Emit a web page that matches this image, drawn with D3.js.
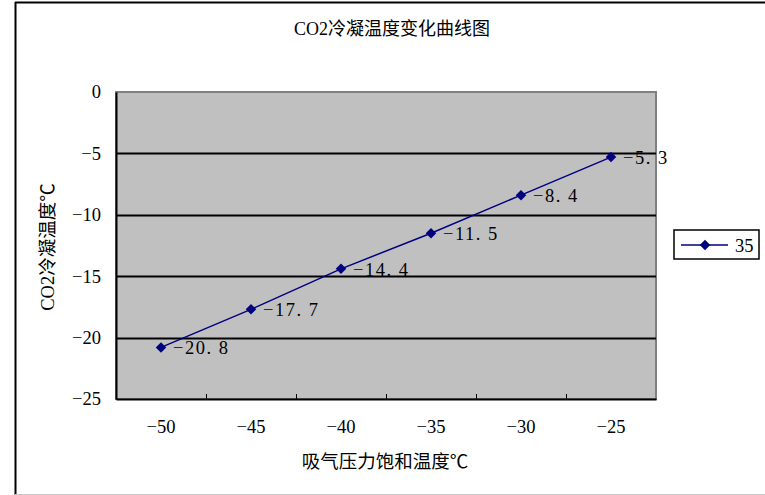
<!DOCTYPE html>
<html><head><meta charset="utf-8">
<script src="https://cdn.jsdelivr.net/npm/d3@7"></script>
<style>
body{margin:0;background:#fff;}
text{font-family:"Liberation Serif","Noto Sans CJK SC",serif;fill:#000;}
</style></head>
<body><svg id="c" width="765" height="495"></svg>
<script>
const categories = [-50, -45, -40, -35, -30, -25];
const values = [-20.8, -17.7, -14.4, -11.5, -8.4, -5.3];
const yTicks = [0, -5, -10, -15, -20, -25];
const seriesName = "35";
const title = "CO2冷凝温度变化曲线图";
const xTitle = "吸气压力饱和温度℃";
const yTitle = "CO2冷凝温度℃";

const svg = d3.select("#c");
const fmt = v => (v < 0 ? "\u2212" : "") + Math.abs(v);
const fmtLbl = v => "\u2212" + Math.abs(v).toFixed(1).replace(".", ". ");

// outer frame
svg.append("line").attr("x1",15.5).attr("x2",15.5).attr("y1",2).attr("y2",495).attr("stroke","#000").attr("stroke-width",2);
svg.append("line").attr("x1",15).attr("x2",765).attr("y1",2.5).attr("y2",2.5).attr("stroke","#000").attr("stroke-width",2);
svg.append("line").attr("x1",15).attr("x2",765).attr("y1",494.5).attr("y2",494.5).attr("stroke","#c8c8c8").attr("stroke-width",1);

const L = 116, R = 656, T = 92, B = 399;
const x = d3.scaleBand().domain(categories).range([L, R]);
const y = d3.scaleLinear().domain([-25, 0]).range([B, T]);

svg.append("rect").attr("x",L).attr("y",T).attr("width",R-L).attr("height",B-T)
  .attr("fill","#c0c0c0").attr("stroke","#808080").attr("stroke-width",2);

// gridlines
svg.append("g").selectAll("line").data(yTicks.filter(d=>d!==0 && d!==-25)).join("line")
  .attr("x1",L).attr("x2",R).attr("y1",d=>Math.round(y(d))+0.5).attr("y2",d=>Math.round(y(d))+0.5)
  .attr("stroke","#000").attr("stroke-width",2);

// y axis
const ya = svg.append("g").attr("transform",`translate(${L},0)`)
  .call(d3.axisLeft(y).tickValues(yTicks).tickFormat(fmt).tickSize(0).tickPadding(15));
ya.select(".domain").attr("stroke","#000").attr("stroke-width",2);
ya.selectAll("text").style("font-size","18.5px").attr("font-family",null);

// x axis
const xa = svg.append("g").attr("transform",`translate(0,${B})`)
  .call(d3.axisBottom(x).tickFormat(fmt).tickSize(0).tickPadding(21));
xa.select(".domain").attr("stroke","#000").attr("stroke-width",2);
xa.selectAll("text").style("font-size","18.5px").attr("font-family",null);
// category separator ticks
svg.append("g").selectAll("line").data(categories.slice(1)).join("line")
  .attr("x1",d=>x(d)+0.5).attr("x2",d=>x(d)+0.5).attr("y1",B-5).attr("y2",B)
  .attr("stroke","#000").attr("stroke-width",1);

// line
const line = d3.line().x((d,i)=>x(categories[i])+x.bandwidth()/2).y(d=>y(d));
svg.append("path").datum(values).attr("d",line).attr("fill","none").attr("stroke","#000080").attr("stroke-width",1.5);
const diamond = d3.symbol().type(d3.symbolDiamond2).size(70);
svg.append("g").selectAll("path").data(values).join("path")
  .attr("transform",(d,i)=>`translate(${x(categories[i])+x.bandwidth()/2},${y(d)})`)
  .attr("d",diamond).attr("fill","#000080");
svg.append("g").selectAll("text").data(values).join("text")
  .attr("x",(d,i)=>x(categories[i])+x.bandwidth()/2+12)
  .attr("y",d=>y(d)+7).style("font-size","18.5px").style("letter-spacing","1.5px").text(fmtLbl);

// titles
svg.append("text").attr("x",392).attr("y",35).attr("text-anchor","middle").style("font-size","18px").text(title);
svg.append("text").attr("x",385).attr("y",468).attr("text-anchor","middle").style("font-size","18.5px").text(xTitle);
svg.append("text").attr("transform","translate(54,247) rotate(-90)").attr("text-anchor","middle").style("font-size","18.5px").text(yTitle);

// legend
const lg = svg.append("g").attr("transform","translate(674,230)");
lg.append("rect").attr("x",0).attr("y",0).attr("width",85).attr("height",29).attr("fill","#fff").attr("stroke","#000").attr("stroke-width",1.5);
lg.append("line").attr("x1",7).attr("x2",54).attr("y1",15).attr("y2",15).attr("stroke","#000080").attr("stroke-width",1.5);
lg.append("path").attr("transform","translate(31,15)").attr("d",diamond).attr("fill","#000080");
lg.append("text").attr("x",61).attr("y",22).style("font-size","18.5px").text(seriesName);
</script></body></html>
